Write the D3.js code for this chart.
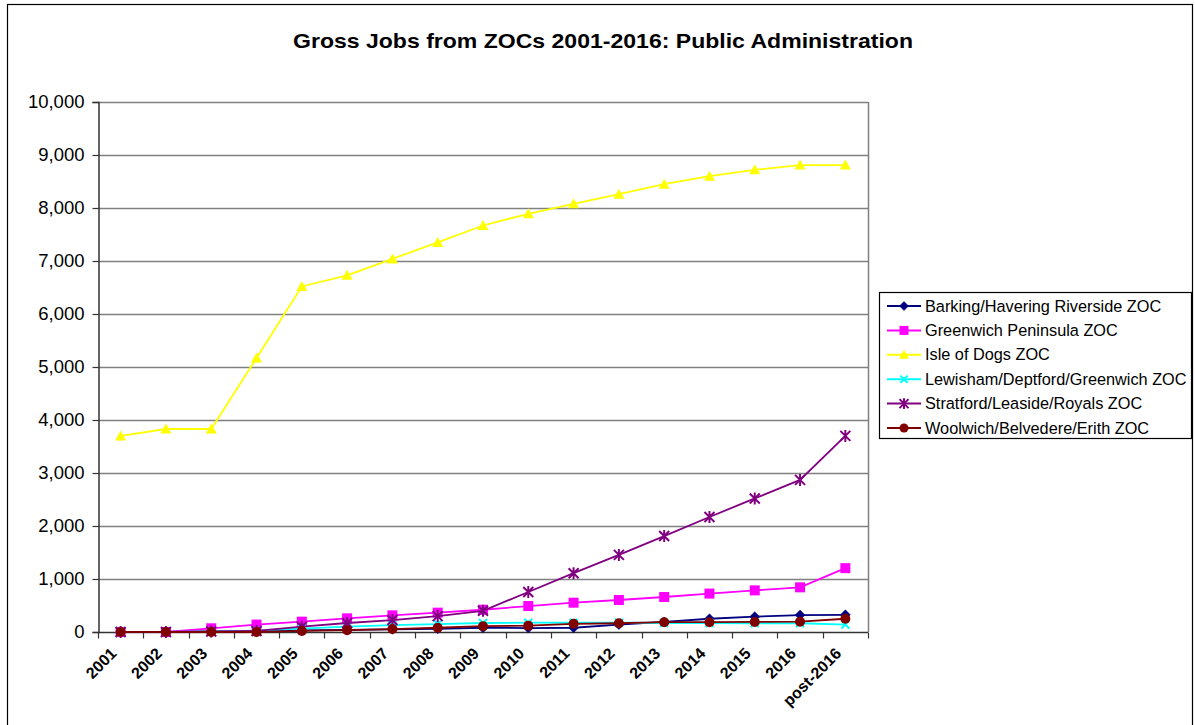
<!DOCTYPE html>
<html>
<head>
<meta charset="utf-8">
<script src="https://cdn.jsdelivr.net/npm/d3@7/dist/d3.min.js"></script>
<style>
  html, body { margin: 0; padding: 0; background: #fff; }
  svg { display: block; font-family: Arial, "Liberation Sans", sans-serif; }
</style>
</head>
<body>
<svg id="chart" width="1195" height="725"></svg>
<script>
// Categories (x axis)
const categories = ["2001","2002","2003","2004","2005","2006","2007","2008","2009",
  "2010","2011","2012","2013","2014","2015","2016","post-2016"];

// Gross jobs per zone, by year
const barking    = [0,0,10,20,30,40,50,60,80,75,80,140,190,250,290,320,325];
const greenwich  = [0,0,70,140,195,258,314,365,420,490,553,604,660,725,785,843,1205];
const isleOfDogs = [3700,3830,3830,5170,6520,6730,7040,7350,7670,7890,8080,8260,8450,8600,8720,8810,8810];
const lewisham   = [0,0,10,25,65,100,130,150,170,175,175,175,170,170,165,165,140];
const stratford  = [0,0,10,20,100,170,225,300,400,755,1110,1455,1810,2170,2520,2870,3700];
const woolwich   = [0,0,0,0,20,35,55,80,110,120,155,165,185,185,190,195,250];

const seriesNames = ["Barking/Havering Riverside ZOC","Greenwich Peninsula ZOC","Isle of Dogs ZOC",
  "Lewisham/Deptford/Greenwich ZOC","Stratford/Leaside/Royals ZOC","Woolwich/Belvedere/Erith ZOC"];
const yTicks = [0,1000,2000,3000,4000,5000,6000,7000,8000,9000,10000];

const series = [
  { name: seriesNames[0], values: barking,    color: "#000080", marker: "diamond" },
  { name: seriesNames[1], values: greenwich,  color: "#FF00FF", marker: "square" },
  { name: seriesNames[2], values: isleOfDogs, color: "#FFFF00", marker: "triangle" },
  { name: seriesNames[3], values: lewisham,   color: "#00FFFF", marker: "cross" },
  { name: seriesNames[4], values: stratford,  color: "#800080", marker: "star" },
  { name: seriesNames[5], values: woolwich,   color: "#800000", marker: "circle" }
];

const svg = d3.select("#chart");

// Outer chart frame
svg.append("rect").attr("x", 7.5).attr("y", 4.5).attr("width", 1185).attr("height", 740)
  .attr("fill", "#fff").attr("stroke", "#000").attr("stroke-width", 1.2);

// Plot area
const plot = { left: 98, right: 868, top: 102, bottom: 632 };

const x = d3.scaleBand().domain(categories).range([plot.left, plot.right]).padding(0);
const y = d3.scaleLinear().domain([0, 10000]).range([plot.bottom, plot.top]);
const cx = c => x(c) + x.bandwidth() / 2;

// Title
svg.append("text").attr("x", 603).attr("y", 48).attr("text-anchor", "middle")
  .attr("font-size", 21).attr("font-weight", "bold").attr("fill", "#000")
  .attr("textLength", 620).attr("lengthAdjust", "spacingAndGlyphs")
  .text("Gross Jobs from ZOCs 2001-2016: Public Administration");

// Gridlines
svg.append("g").selectAll("line").data(yTicks.filter(d => d > 0)).join("line")
  .attr("x1", plot.left).attr("x2", plot.right)
  .attr("y1", d => Math.round(y(d)) + 0.5).attr("y2", d => Math.round(y(d)) + 0.5)
  .attr("stroke", "#808080").attr("stroke-width", 1.5);

// Right plot border
svg.append("line").attr("x1", plot.right + 0.5).attr("x2", plot.right + 0.5)
  .attr("y1", plot.top).attr("y2", plot.bottom)
  .attr("stroke", "#808080").attr("stroke-width", 1.5);

// Y axis
const yAxis = d3.axisLeft(y).tickValues(yTicks).tickSize(6).tickPadding(8)
  .tickFormat(d3.format(","));
const gy = svg.append("g").attr("transform", `translate(${plot.left + 0.5},0)`).call(yAxis);
gy.select(".domain").attr("stroke", "#333").attr("stroke-width", 1.5);
gy.selectAll(".tick line").attr("stroke", "#333").attr("stroke-width", 1.2);
gy.selectAll(".tick text").attr("font-size", 18.5).attr("fill", "#000")
  .attr("font-family", "Arial, 'Liberation Sans', sans-serif");

// X axis: ticks at category boundaries, labels at centres
const gx = svg.append("g").attr("transform", `translate(0,${plot.bottom + 0.5})`);
gx.append("line").attr("x1", plot.left).attr("x2", plot.right)
  .attr("stroke", "#333").attr("stroke-width", 1.5);
const boundaries = categories.map(c => x(c)).concat([x(categories[categories.length - 1]) + x.bandwidth()]);
gx.selectAll("line.tk").data(boundaries).join("line").attr("class", "tk")
  .attr("x1", d => Math.round(d) + 0.5).attr("x2", d => Math.round(d) + 0.5)
  .attr("y1", 0).attr("y2", 6).attr("stroke", "#333").attr("stroke-width", 1.2);
gx.selectAll("text").data(categories).join("text")
  .attr("transform", d => `translate(${cx(d) - 3},${22}) rotate(-45)`)
  .attr("text-anchor", "end").attr("font-size", 16).attr("font-weight", "bold")
  .attr("fill", "#000").text(d => d);

// Marker shapes
function drawMarker(g, type, color, px, py, scale = 1) {
  const s = scale;
  switch (type) {
    case "diamond":
      g.append("path").attr("d", `M${px},${py - 5 * s}L${px + 5 * s},${py}L${px},${py + 5 * s}L${px - 5 * s},${py}Z`)
        .attr("fill", color).attr("stroke", color).attr("stroke-width", 0.5);
      break;
    case "square":
      g.append("rect").attr("x", px - 5 * s).attr("y", py - 5 * s).attr("width", 10 * s).attr("height", 10 * s)
        .attr("fill", color);
      break;
    case "triangle":
      g.append("path").attr("d", `M${px},${py - 5.5 * s}L${px + 5.5 * s},${py + 4.5 * s}L${px - 5.5 * s},${py + 4.5 * s}Z`)
        .attr("fill", color);
      break;
    case "cross":
      g.append("path").attr("d", `M${px - 4 * s},${py - 4 * s}L${px + 4 * s},${py + 4 * s}M${px - 4 * s},${py + 4 * s}L${px + 4 * s},${py - 4 * s}`)
        .attr("stroke", color).attr("stroke-width", 2).attr("fill", "none");
      break;
    case "star":
      g.append("path").attr("d", `M${px - 5 * s},${py - 5 * s}L${px + 5 * s},${py + 5 * s}M${px - 5 * s},${py + 5 * s}L${px + 5 * s},${py - 5 * s}M${px},${py - 6 * s}L${px},${py + 6 * s}`)
        .attr("stroke", color).attr("stroke-width", 2).attr("fill", "none");
      break;
    case "circle":
      g.append("circle").attr("cx", px).attr("cy", py).attr("r", 5 * s).attr("fill", color);
      break;
  }
}

// Series lines and markers
const line = d3.line().x((d, i) => cx(categories[i])).y(d => y(d));
const gs = svg.append("g");
series.forEach(s => {
  const g = gs.append("g");
  g.append("path").datum(s.values).attr("d", line)
    .attr("fill", "none").attr("stroke", s.color).attr("stroke-width", 1.8);
  s.values.forEach((v, i) => drawMarker(g, s.marker, s.color, cx(categories[i]), y(v)));
});

// Legend
const lg = svg.append("g");
lg.append("rect").attr("x", 879.5).attr("y", 292.5).attr("width", 312).attr("height", 146)
  .attr("fill", "#fff").attr("stroke", "#000").attr("stroke-width", 1.2);
series.forEach((s, i) => {
  const ly = 306 + i * 24.4;
  lg.append("line").attr("x1", 887).attr("x2", 921).attr("y1", ly).attr("y2", ly)
    .attr("stroke", s.color).attr("stroke-width", 2);
  drawMarker(lg, s.marker, s.color, 904, ly, 0.9);
  lg.append("text").attr("x", 925).attr("y", ly + 5.5).attr("font-size", 16.3)
    .attr("fill", "#000").text(s.name);
});
</script>
</body>
</html>
